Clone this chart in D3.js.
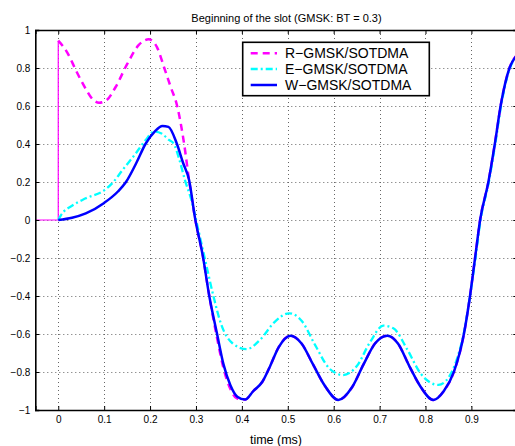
<!DOCTYPE html>
<html>
<head>
<meta charset="utf-8">
<script src="https://cdn.jsdelivr.net/npm/d3@7/dist/d3.min.js"></script>
<style>
  html, body { margin: 0; padding: 0; background: #fff; }
  svg { display: block; font-family: "Liberation Sans", Arial, Helvetica, sans-serif; }
</style>
</head>
<body>
<svg id="chart" width="515" height="446"></svg>
<script>
// ---------------- DATA ----------------
const titleText = "Beginning of the slot (GMSK: BT = 0.3)";
const xLabelText = "time (ms)";
const xTicks = [0, 0.1, 0.2, 0.3, 0.4, 0.5, 0.6, 0.7, 0.8, 0.9, 1.0];
const xTickLabels = ["0", "0.1", "0.2", "0.3", "0.4", "0.5", "0.6", "0.7", "0.8", "0.9", "1"];
const yTicks = [-1, -0.8, -0.6, -0.4, -0.2, 0, 0.2, 0.4, 0.6, 0.8, 1];
const yTickLabels = ["\u22121", "\u22120.8", "\u22120.6", "\u22120.4", "\u22120.2", "0", "0.2", "0.4", "0.6", "0.8", "1"];
const legendLabels = ["R\u2212GMSK/SOTDMA", "E\u2212GMSK/SOTDMA", "W\u2212GMSK/SOTDMA"];

// R-GMSK: step before the slot (thin solid)
const tRstep = [-0.05, 0, 0];
const vRstep = [0, 0, 0.944];

// R-GMSK/SOTDMA (dashed)
const tR = [0, 0.02, 0.04, 0.06, 0.075, 0.089, 0.105, 0.125, 0.15, 0.175, 0.197, 0.215, 0.231, 0.245, 0.259, 0.274, 0.285, 0.298, 0.315, 0.329, 0.345, 0.36, 0.375, 0.39, 0.407, 0.425, 0.445, 0.461, 0.48, 0.506, 0.53, 0.555, 0.58, 0.61, 0.64, 0.665, 0.69, 0.717, 0.74, 0.765, 0.79, 0.817, 0.84, 0.862, 0.884, 0.897, 0.908, 0.919, 0.937, 0.951, 0.964, 0.983, 1.0];
const vR = [0.944, 0.88, 0.78, 0.69, 0.635, 0.617, 0.63, 0.70, 0.82, 0.92, 0.951, 0.91, 0.80, 0.70, 0.60, 0.404, 0.21, 0.01, -0.19, -0.40, -0.61, -0.78, -0.89, -0.94, -0.945, -0.90, -0.85, -0.772, -0.67, -0.609, -0.65, -0.76, -0.87, -0.947, -0.88, -0.76, -0.65, -0.609, -0.65, -0.77, -0.88, -0.947, -0.90, -0.798, -0.596, -0.40, -0.20, 0.0, 0.20, 0.40, 0.605, 0.80, 0.87];

// E-GMSK/SOTDMA (dash-dot)
const tE = [0, 0.006, 0.03, 0.06, 0.1, 0.12, 0.14, 0.169, 0.19, 0.209, 0.225, 0.242, 0.251, 0.264, 0.276, 0.29, 0.305, 0.32, 0.338, 0.355, 0.38, 0.41, 0.44, 0.47, 0.503, 0.53, 0.56, 0.59, 0.62, 0.65, 0.68, 0.708, 0.73, 0.76, 0.79, 0.828, 0.85, 0.87, 0.884, 0.897, 0.909, 0.92, 0.938, 0.952, 0.965, 0.984, 1.0];
const vE = [0, 0.026, 0.075, 0.114, 0.156, 0.20, 0.263, 0.351, 0.42, 0.465, 0.455, 0.42, 0.404, 0.316, 0.21, 0.105, -0.05, -0.21, -0.40, -0.55, -0.65, -0.68, -0.63, -0.54, -0.491, -0.53, -0.66, -0.78, -0.816, -0.77, -0.64, -0.556, -0.57, -0.68, -0.81, -0.868, -0.83, -0.72, -0.59, -0.40, -0.20, 0.0, 0.20, 0.40, 0.605, 0.80, 0.86];

// W-GMSK/SOTDMA (solid)
const tW = [0, 0.03, 0.06, 0.1, 0.13, 0.1475, 0.17, 0.19, 0.21, 0.227, 0.24, 0.258, 0.272, 0.285, 0.298, 0.315, 0.329, 0.346, 0.36, 0.375, 0.39, 0.407, 0.425, 0.445, 0.461, 0.48, 0.506, 0.53, 0.555, 0.58, 0.61, 0.64, 0.665, 0.69, 0.717, 0.74, 0.765, 0.79, 0.817, 0.84, 0.862, 0.884, 0.897, 0.908, 0.919, 0.937, 0.951, 0.964, 0.983, 1.0];
const vW = [0, 0.012, 0.035, 0.09, 0.15, 0.20, 0.30, 0.40, 0.465, 0.495, 0.49, 0.404, 0.30, 0.21, 0.01, -0.19, -0.40, -0.60, -0.76, -0.87, -0.93, -0.945, -0.90, -0.85, -0.772, -0.67, -0.609, -0.65, -0.76, -0.87, -0.947, -0.88, -0.76, -0.65, -0.609, -0.65, -0.77, -0.88, -0.947, -0.90, -0.798, -0.596, -0.40, -0.20, 0.0, 0.20, 0.40, 0.605, 0.80, 0.87];

// ---------------- CHART ----------------
const svg = d3.select("#chart");
svg.append("rect").attr("width", 515).attr("height", 446).attr("fill", "#fff");

const x = d3.scaleLinear().domain([-0.05, 1.0]).range([35.3, 517.3]);
const y = d3.scaleLinear().domain([-1, 1]).range([410, 30]);

// grid
const grid = svg.append("g").attr("stroke", "#666").attr("stroke-width", 1).attr("stroke-dasharray", "1,3");
grid.selectAll("line.gx").data(xTicks).enter().append("line")
  .attr("x1", d => Math.round(x(d)) + 0.5).attr("x2", d => Math.round(x(d)) + 0.5)
  .attr("y1", y(1)).attr("y2", y(-1));
grid.selectAll("line.gy").data(yTicks.filter(v => v > -1 && v < 1)).enter().append("line")
  .attr("y1", d => Math.round(y(d)) + 0.5).attr("y2", d => Math.round(y(d)) + 0.5)
  .attr("x1", x(-0.05)).attr("x2", x(1.0));

// series
const clip = svg.append("clipPath").attr("id", "clip").append("rect")
  .attr("x", x(-0.05)).attr("y", y(1) - 2).attr("width", x(1.0) - x(-0.05)).attr("height", y(-1) - y(1) + 4);
const plot = svg.append("g").attr("clip-path", "url(#clip)");

const mk = (ts, vs) => ts.map((t, i) => [t, vs[i]]);
const smooth = d3.line().x(d => x(d[0])).y(d => y(d[1])).curve(d3.curveMonotoneX);
const straight = d3.line().x(d => x(d[0])).y(d => y(d[1]));

plot.append("path").attr("d", straight(mk(tRstep, vRstep)))
  .attr("fill", "none").attr("stroke", "#ff00ff").attr("stroke-width", 1.2);
plot.append("path").attr("d", smooth(mk(tR, vR)))
  .attr("fill", "none").attr("stroke", "#ff00ff").attr("stroke-width", 2.5).attr("stroke-dasharray", "7,5");
plot.append("path").attr("d", smooth(mk(tE, vE)))
  .attr("fill", "none").attr("stroke", "#00ffff").attr("stroke-width", 2.3).attr("stroke-dasharray", "7,3,2,3");
plot.append("path").attr("d", smooth(mk(tW, vW)))
  .attr("fill", "none").attr("stroke", "#0000ff").attr("stroke-width", 2.5);

// axes
const fmtX = (d, i) => xTickLabels[xTicks.indexOf(d)];
const fmtY = (d) => yTickLabels[yTicks.indexOf(d)];

const axB = svg.append("g").attr("transform", `translate(0,${y(-1)})`)
  .call(d3.axisBottom(x).tickValues(xTicks.filter(v => v < 1)).tickFormat(fmtX).tickSize(-4).tickPadding(6));
const axT = svg.append("g").attr("transform", `translate(0,${y(1)})`)
  .call(d3.axisTop(x).tickValues(xTicks).tickFormat("").tickSize(-4));
const axL = svg.append("g").attr("transform", `translate(${x(-0.05)},0)`)
  .call(d3.axisLeft(y).tickValues(yTicks).tickFormat(fmtY).tickSize(-4).tickPadding(5));
const axR = svg.append("g").attr("transform", `translate(${x(1.0)},0)`)
  .call(d3.axisRight(y).tickValues(yTicks).tickFormat("").tickSize(-4));

[axB, axT, axL, axR].forEach(g => {
  g.select(".domain").attr("stroke", "#000").attr("stroke-width", 1.6);
  g.selectAll(".tick line").attr("stroke", "#000").attr("stroke-width", 1);
  g.selectAll(".tick text").attr("font-size", 10).attr("fill", "#000")
    .attr("font-family", "'Liberation Sans', Arial, sans-serif");
});

// title and x label
svg.append("text").attr("x", 286.5).attr("y", 21.5).attr("text-anchor", "middle")
  .attr("font-size", 11).attr("fill", "#000").text(titleText);
svg.append("text").attr("x", 276).attr("y", 444).attr("text-anchor", "middle")
  .attr("font-size", 12.5).attr("fill", "#000").text(xLabelText);

// legend
const leg = svg.append("g");
leg.append("rect").attr("x", 242.7).attr("y", 42.3).attr("width", 186.6).attr("height", 53.4)
  .attr("fill", "#fff").attr("stroke", "#000").attr("stroke-width", 1.6);
const legStyles = [
  { c: "#ff00ff", w: 2.5, dash: "7,5" },
  { c: "#00ffff", w: 2.3, dash: "7,3,2,3" },
  { c: "#0000ff", w: 2.5, dash: null }
];
const rowY = [53.3, 69, 85];
legendLabels.forEach((lab, i) => {
  leg.append("line").attr("x1", 250.7).attr("x2", 277).attr("y1", rowY[i]).attr("y2", rowY[i])
    .attr("stroke", legStyles[i].c).attr("stroke-width", legStyles[i].w)
    .attr("stroke-dasharray", legStyles[i].dash);
  leg.append("text").attr("x", 285).attr("y", rowY[i]).attr("dy", "0.36em")
    .attr("font-size", 14).attr("fill", "#000").text(lab);
});
</script>
</body>
</html>
